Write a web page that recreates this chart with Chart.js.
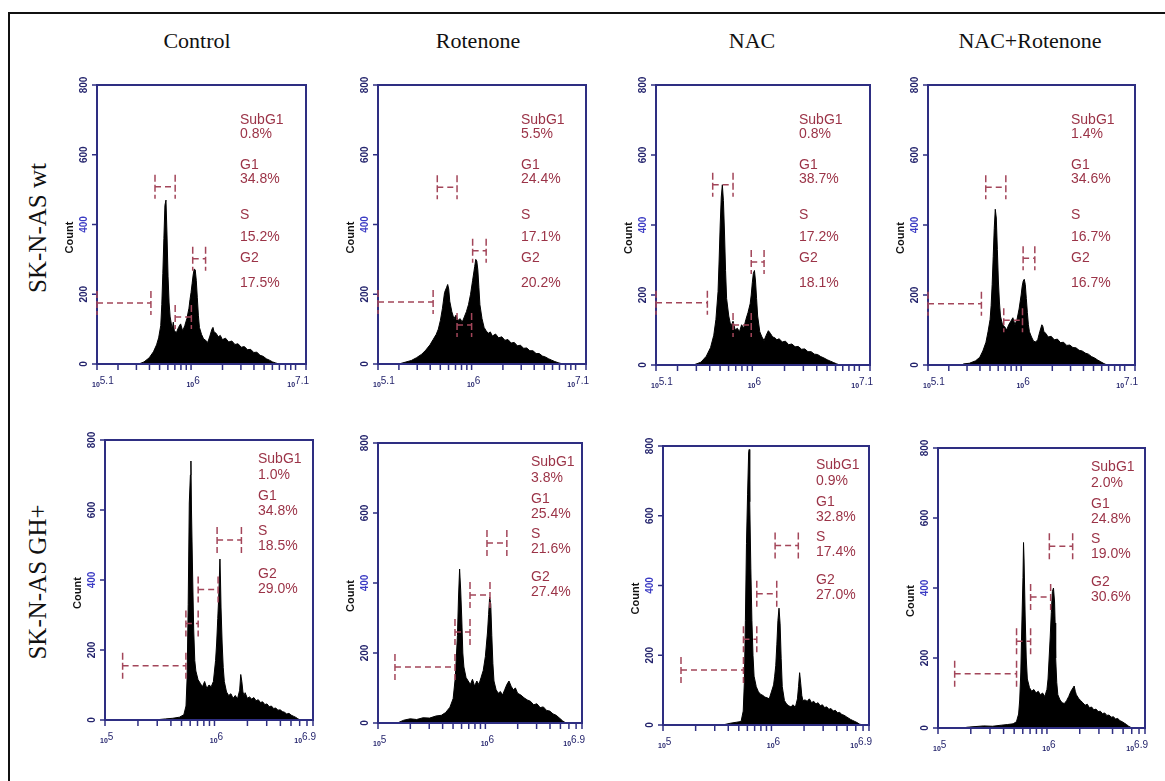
<!DOCTYPE html>
<html>
<head>
<meta charset="utf-8">
<title>Cell cycle histograms</title>
<script src="https://cdn.jsdelivr.net/npm/chart.js@4.4.1/dist/chart.umd.min.js"></script>
<style>
  html, body { margin: 0; padding: 0; background: #fff; }
  #page { position: relative; width: 1165px; height: 781px; overflow: hidden; }
  #frame { position: absolute; left: 8px; top: 12px; width: 1180px; height: 800px;
           border-left: 2px solid #111; border-top: 2px solid #111; }
  .col-title { position: absolute; top: 28px; font: 22px 'Liberation Serif', 'Times New Roman', serif;
               color: #111; transform: translateX(-50%); white-space: nowrap; }
  .row-title { position: absolute; font: 25px 'Liberation Serif', 'Times New Roman', serif; color: #111;
               transform: translate(-50%, -50%) rotate(-90deg); white-space: nowrap; }
  canvas { position: absolute; }
</style>
</head>
<body>
<div id="page"><div id="frame"></div></div>
<script>
// ---- values ----
const groups = ['Control', 'Rotenone', 'NAC', 'NAC+Rotenone'];
const cellLines = ['SK-N-AS wt', 'SK-N-AS GH+'];
const phases = ['SubG1', 'G1', 'S', 'G2'];
const countTicks = [0, 200, 400, 600, 800];
const wtTickExp = ['5.1', '6', '7.1'];
const ghTickExp = ['5', '6', '6.9'];

// histograms: log10 fluorescence -> count
const wtControlLog = [5.50,5.55,5.60,5.64,5.67,5.69,5.71,5.72,5.73,5.74, 5.75,5.76,5.77,5.78,5.79,5.80,5.82,5.83,5.84,5.86, 5.88,5.90,5.92,5.94,5.96,5.98,5.99,6.00,6.01,6.02, 6.03,6.04,6.05,6.06,6.07,6.08,6.10,6.12,6.14,6.16, 6.18,6.20,6.21,6.22,6.24,6.26,6.28,6.30,6.33,6.36, 6.39,6.42,6.45,6.48,6.51,6.54,6.57,6.60,6.63,6.66, 6.69,6.72,6.75,6.78,6.81,6.84];
const wtControlCount = [0,6,18,35,55,75,110,170,260,360, 455,470,370,250,175,135,100,120,95,90, 105,115,95,110,130,160,185,205,230,255, 272,270,240,190,140,105,85,72,68,62, 80,100,105,92,88,78,82,70,74,63, 66,56,58,48,50,41,42,33,34,25, 22,15,11,6,3,0];

const wtRotenoneLog = [5.30,5.36,5.42,5.47,5.52,5.56,5.60,5.63,5.66,5.68, 5.70,5.72,5.74,5.76,5.77,5.78,5.79,5.81,5.83,5.85, 5.87,5.89,5.91,5.93,5.95,5.97,5.99,6.01,6.03,6.04, 6.05,6.06,6.07,6.08,6.10,6.12,6.14,6.16,6.18,6.20, 6.23,6.26,6.29,6.32,6.35,6.38,6.41,6.44,6.47,6.50, 6.53,6.56,6.59,6.62,6.65,6.68,6.71,6.74,6.77,6.80, 6.84,6.88];
const wtRotenoneCount = [0,5,10,18,28,40,55,70,85,100, 125,160,205,220,228,215,180,150,130,140, 125,130,120,135,150,170,200,240,280,300, 295,270,220,170,130,105,95,88,92,80, 86,75,78,68,70,60,62,52,54,45, 46,38,38,30,30,23,20,15,11,7, 3,0];

const wtNacLog = [5.45,5.52,5.57,5.61,5.64,5.66,5.68,5.69,5.70,5.71, 5.72,5.73,5.74,5.75,5.76,5.78,5.80,5.82,5.84,5.86, 5.88,5.90,5.92,5.94,5.96,5.98,5.99,6.00,6.01,6.02, 6.03,6.04,6.05,6.07,6.09,6.11,6.13,6.15,6.17,6.19, 6.21,6.23,6.25,6.28,6.31,6.34,6.37,6.40,6.43,6.46, 6.49,6.52,6.55,6.58,6.61,6.64,6.67,6.70,6.73,6.76, 6.79,6.82];
const wtNacCount = [0,8,25,50,85,130,210,300,400,480, 515,470,380,270,190,140,110,125,100,105, 95,115,105,130,150,175,200,235,262,270, 240,190,140,95,80,70,85,98,90,80, 78,72,75,66,68,58,60,52,53,45, 46,38,38,31,30,24,20,15,11,7, 3,0];

const wtNacRotLog = [5.44,5.50,5.56,5.60,5.63,5.66,5.68,5.70,5.71,5.72, 5.73,5.74,5.75,5.76,5.77,5.78,5.79,5.80,5.82,5.84, 5.86,5.88,5.90,5.92,5.94,5.96,5.98,6.00,6.01,6.02, 6.03,6.04,6.05,6.06,6.07,6.08,6.10,6.12,6.14,6.16, 6.18,6.20,6.21,6.22,6.24,6.26,6.29,6.32,6.35,6.38, 6.41,6.44,6.47,6.50,6.53,6.56,6.59,6.62,6.65,6.68, 6.71,6.74,6.77,6.80,6.83];
const wtNacRotCount = [3,5,12,22,40,65,95,130,170,230, 310,390,445,420,330,240,180,140,115,110, 100,115,125,135,115,130,160,200,225,240, 245,230,190,150,115,95,80,68,66,72, 95,115,110,95,90,80,82,72,74,64, 65,56,57,50,49,42,40,34,31,24, 20,14,9,4,0];

const ghControlLog = [5.45,5.55,5.62,5.68,5.72,5.74,5.75,5.76,5.77,5.78, 5.785,5.79,5.80,5.81,5.82,5.83,5.85,5.87,5.89,5.91, 5.93,5.95,5.97,5.99,6.00,6.01,6.02,6.03,6.04,6.05, 6.055,6.06,6.07,6.08,6.09,6.11,6.13,6.15,6.17,6.19, 6.21,6.23,6.24,6.25,6.26,6.27,6.28,6.30,6.32,6.34, 6.36,6.38,6.40,6.42,6.44,6.46,6.48,6.50,6.52,6.54, 6.56,6.58,6.60,6.62,6.64,6.66,6.68,6.70,6.72,6.74, 6.76,6.78];
const ghControlCount = [0,3,5,8,15,40,120,330,620,700, 740,600,420,260,170,140,115,105,95,110, 90,100,95,110,140,170,220,290,360,460, 400,320,220,150,110,80,70,75,62,70, 60,85,130,110,80,70,78,62,66,60, 64,55,58,50,52,44,46,38,40,33, 34,28,29,24,22,17,19,14,11,8, 4,0];

const ghRotenoneLog = [5.18,5.24,5.30,5.36,5.42,5.48,5.54,5.59,5.63,5.67, 5.70,5.72,5.74,5.75,5.76,5.77,5.78,5.79,5.80,5.82, 5.84,5.86,5.88,5.90,5.92,5.94,5.96,5.98,6.00,6.02, 6.03,6.04,6.05,6.06,6.07,6.08,6.10,6.12,6.14,6.16, 6.18,6.20,6.22,6.24,6.26,6.28,6.30,6.33,6.36,6.39, 6.42,6.45,6.48,6.51,6.54,6.57,6.60,6.63,6.66,6.69, 6.72,6.75];
const ghRotenoneCount = [0,8,12,10,15,14,20,22,30,45, 70,130,250,360,440,380,300,200,160,130, 120,110,125,105,120,110,130,150,190,260, 310,360,340,250,170,120,95,85,90,80, 95,110,120,105,95,100,85,80,72,66, 62,52,55,44,46,36,34,26,22,14, 6,0];

const ghNacLog = [5.55,5.62,5.68,5.72,5.74,5.75,5.76,5.77,5.78,5.79, 5.795,5.80,5.81,5.82,5.83,5.84,5.86,5.88,5.90,5.92, 5.94,5.96,5.98,6.00,6.02,6.03,6.04,6.05,6.06,6.07, 6.08,6.09,6.10,6.12,6.14,6.16,6.18,6.20,6.22,6.24, 6.25,6.26,6.27,6.28,6.29,6.31,6.33,6.35,6.37,6.39, 6.41,6.43,6.45,6.47,6.49,6.51,6.53,6.55,6.57,6.59, 6.61,6.63,6.65,6.67,6.69,6.71,6.73,6.75,6.77,6.79, 6.81,6.84];
const ghNacCount = [0,5,8,10,40,120,300,520,660,780, 790,640,450,300,200,140,110,95,88,85, 80,78,75,95,115,140,170,230,300,335, 290,190,110,70,60,55,52,58,50,75, 110,150,120,85,70,72,68,75,64,68, 60,64,55,58,50,52,45,47,40,42, 35,36,30,28,24,20,16,13,10,7, 3,0];

const ghNacRotLog = [5.26,5.34,5.42,5.50,5.58,5.64,5.69,5.72,5.74,5.75, 5.76,5.77,5.78,5.785,5.79,5.80,5.81,5.82,5.84,5.86, 5.88,5.90,5.92,5.94,5.96,5.98,6.00,6.01,6.02,6.03, 6.04,6.05,6.06,6.07,6.075,6.08,6.09,6.10,6.12,6.14, 6.16,6.18,6.20,6.22,6.24,6.25,6.26,6.27,6.29,6.31, 6.33,6.35,6.37,6.39,6.41,6.43,6.45,6.47,6.49,6.51, 6.53,6.55,6.57,6.59,6.61,6.63,6.65,6.67,6.69,6.71, 6.73,6.75,6.78];
const ghNacRotCount = [2,4,6,5,8,10,12,18,40,80, 160,300,430,530,480,320,200,140,115,105, 110,100,105,95,100,90,110,140,200,260, 330,390,400,360,300,200,130,95,80,72, 70,78,90,105,115,120,105,95,85,78, 72,65,68,58,60,52,54,47,48,41, 43,36,37,31,32,26,27,21,18,14, 10,5,0];

// gates [from, to, level] in log10 units / counts, order SubG1, G1, S, G2
const wtControlGates  = [[5.1, 5.616, 175], [5.655, 5.848, 508], [5.848, 6.003, 135], [6.016, 6.139, 302]];
const wtRotenoneGates = [[5.1, 5.63, 178], [5.67, 5.86, 507], [5.86, 6.0, 112], [6.01, 6.14, 325]];
const wtNacGates      = [[5.1, 5.58, 178], [5.63, 5.82, 515], [5.82, 5.99, 114], [5.99, 6.11, 294]];
const wtNacRotGates   = [[5.1, 5.616, 175], [5.658, 5.852, 508], [5.832, 6.013, 128], [6.019, 6.132, 305]];
const ghControlGates  = [[5.161, 5.739, 155], [5.739, 5.851, 276], [5.851, 6.033, 373], [6.024, 6.246, 514]];
const ghRotenoneGates = [[5.158, 5.717, 160], [5.717, 5.857, 260], [5.857, 6.043, 366], [6.015, 6.2, 514]];
const ghNacGates      = [[5.166, 5.742, 158], [5.742, 5.865, 246], [5.865, 6.049, 376], [6.034, 6.248, 515]];
const ghNacRotGates   = [[5.153, 5.721, 155], [5.721, 5.85, 248], [5.85, 6.034, 374], [6.022, 6.236, 519]];

// phase percentages, order SubG1, G1, S, G2
const wtControlPct  = ['0.8%', '34.8%', '15.2%', '17.5%'];
const wtRotenonePct = ['5.5%', '24.4%', '17.1%', '20.2%'];
const wtNacPct      = ['0.8%', '38.7%', '17.2%', '18.1%'];
const wtNacRotPct   = ['1.4%', '34.6%', '16.7%', '16.7%'];
const ghControlPct  = ['1.0%', '34.8%', '18.5%', '29.0%'];
const ghRotenonePct = ['3.8%', '25.4%', '21.6%', '27.4%'];
const ghNacPct      = ['0.9%', '32.8%', '17.4%', '27.0%'];
const ghNacRotPct   = ['2.0%', '24.8%', '19.0%', '30.6%'];

// ---- layout ----
const AXIS = '#2e2e82';
const TICK_TEXT = '#26266e';
const GATE = '#a3465a';
const PCT_TEXT = '#9b3347';
const SANS = "'Liberation Sans', Arial, sans-serif";
const PAD = { left: 45, top: 20, right: 8, bottom: 30 };

// plot area boxes [left, top, width, height]
const plotBoxes = [
    [97, 85, 209, 279], [378, 85, 208, 279], [656, 85, 214, 280], [928, 85, 207, 280],
    [105, 440, 208, 280], [378, 443, 204, 280], [663, 446, 206, 279], [938, 448, 207, 280]
];
const titleX = [197, 478, 752, 1030];
const rowTitleY = [228, 582];

const rows = [
    { min: 5.1, max: 7.1, exps: wtTickExp, textLeft: 143, textY: [35, 49, 80, 94, 130, 152, 173, 198], gateHalf: 12 },
    { min: 5.0, max: 6.9, exps: ghTickExp, textLeft: 153, textY: [19, 35, 56, 71, 91, 106, 134, 149], gateHalf: 13 }
];

const panels = [
    { log: wtControlLog,  count: wtControlCount,  gates: wtControlGates,  pct: wtControlPct },
    { log: wtRotenoneLog, count: wtRotenoneCount, gates: wtRotenoneGates, pct: wtRotenonePct },
    { log: wtNacLog,      count: wtNacCount,      gates: wtNacGates,      pct: wtNacPct },
    { log: wtNacRotLog,   count: wtNacRotCount,   gates: wtNacRotGates,   pct: wtNacRotPct },
    { log: ghControlLog,  count: ghControlCount,  gates: ghControlGates,  pct: ghControlPct },
    { log: ghRotenoneLog, count: ghRotenoneCount, gates: ghRotenoneGates, pct: ghRotenonePct },
    { log: ghNacLog,      count: ghNacCount,      gates: ghNacGates,      pct: ghNacPct },
    { log: ghNacRotLog,   count: ghNacRotCount,   gates: ghNacRotGates,   pct: ghNacRotPct }
];

const page = document.getElementById('page');

// column and row titles
groups.forEach((g, i) => {
    const d = document.createElement('div');
    d.className = 'col-title';
    d.style.left = titleX[i] + 'px';
    d.textContent = g;
    page.appendChild(d);
});
cellLines.forEach((c, i) => {
    const d = document.createElement('div');
    d.className = 'row-title';
    d.style.left = '38px';
    d.style.top = rowTitleY[i] + 'px';
    d.textContent = c;
    page.appendChild(d);
});

function seg(ctx, x1, y1, x2, y2) {
    ctx.beginPath();
    ctx.moveTo(x1, y1);
    ctx.lineTo(x2, y2);
    ctx.stroke();
}

// axes, gates and phase text on top of the histogram
function makeOverlay(panel, row) {
    return {
        id: 'overlay',
        afterDatasetsDraw(chart) {
            const ctx = chart.ctx;
            const xs = chart.scales.x;
            const ys = chart.scales.y;
            const a = chart.chartArea;
            ctx.save();

            // frame
            ctx.strokeStyle = AXIS;
            ctx.lineWidth = 2;
            ctx.strokeRect(a.left, a.top, a.right - a.left, a.bottom - a.top);

            // count axis
            ctx.lineWidth = 1.5;
            ctx.font = 'bold 10px ' + SANS;
            countTicks.forEach(v => {
                const y = ys.getPixelForValue(v);
                seg(ctx, a.left - 5, y, a.left, y);
                ctx.save();
                ctx.translate(a.left - 13, y);
                ctx.rotate(-Math.PI / 2);
                ctx.textAlign = 'center';
                ctx.textBaseline = 'middle';
                ctx.fillStyle = v === 400 ? '#3c3cc4' : TICK_TEXT;
                ctx.fillText(String(v), 0, 0);
                ctx.restore();
            });
            ctx.save();
            ctx.translate(a.left - 27, (a.top + a.bottom) / 2 + 13);
            ctx.rotate(-Math.PI / 2);
            ctx.font = 'bold 11px ' + SANS;
            ctx.fillStyle = '#111';
            ctx.textAlign = 'center';
            ctx.textBaseline = 'middle';
            ctx.fillText('Count', 0, 0);
            ctx.restore();

            // log axis: decade sub-ticks
            const tickVals = [row.min, row.max];
            for (let n = Math.floor(row.min); n <= Math.ceil(row.max); n++) {
                for (let k = 1; k <= 9; k++) {
                    const v = n + Math.log10(k);
                    if (v > row.min + 0.005 && v < row.max - 0.005) tickVals.push(v);
                }
            }
            tickVals.forEach(v => {
                const x = xs.getPixelForValue(v);
                seg(ctx, x, a.bottom, x, a.bottom + 6);
            });
            row.exps.forEach((e, i) => {
                const x = xs.getPixelForValue(parseFloat(e));
                ctx.font = 'bold 7px ' + SANS;
                const w10 = ctx.measureText('10').width;
                ctx.font = '10px ' + SANS;
                const we = ctx.measureText(e).width;
                const w = w10 + we;
                let x0 = x - w / 2 + 2;
                if (i === 0) x0 = x - 5;
                if (i === row.exps.length - 1) x0 = x - w + 3;
                ctx.fillStyle = TICK_TEXT;
                ctx.textAlign = 'left';
                ctx.textBaseline = 'alphabetic';
                ctx.font = 'bold 7px ' + SANS;
                ctx.fillText('10', x0, a.bottom + 23);
                ctx.font = '10px ' + SANS;
                ctx.fillText(e, x0 + w10, a.bottom + 20);
            });

            // gates
            ctx.strokeStyle = GATE;
            ctx.lineWidth = 1.5;
            ctx.setLineDash([6, 4]);
            panel.gates.forEach(g => {
                const x1 = xs.getPixelForValue(g[0]);
                const x2 = xs.getPixelForValue(g[1]);
                const y = ys.getPixelForValue(g[2]);
                seg(ctx, x1, y, x2, y);
                ctx.setLineDash([7, 3]);
                seg(ctx, x1, y - row.gateHalf, x1, y + row.gateHalf);
                seg(ctx, x2, y - row.gateHalf, x2, y + row.gateHalf);
                ctx.setLineDash([6, 4]);
            });
            ctx.setLineDash([]);

            // phase percentages
            ctx.fillStyle = PCT_TEXT;
            ctx.font = '14px ' + SANS;
            ctx.textAlign = 'left';
            ctx.textBaseline = 'middle';
            phases.forEach((ph, i) => {
                ctx.fillText(ph, a.left + row.textLeft, a.top + row.textY[2 * i]);
                ctx.fillText(panel.pct[i], a.left + row.textLeft, a.top + row.textY[2 * i + 1]);
            });

            ctx.restore();
        }
    };
}

panels.forEach((p, i) => {
    const row = rows[i < 4 ? 0 : 1];
    const box = plotBoxes[i];
    const canvas = document.createElement('canvas');
    const w = box[2] + PAD.left + PAD.right;
    const h = box[3] + PAD.top + PAD.bottom;
    canvas.width = w;
    canvas.height = h;
    canvas.style.width = w + 'px';
    canvas.style.height = h + 'px';
    canvas.style.left = (box[0] - PAD.left) + 'px';
    canvas.style.top = (box[1] - PAD.top) + 'px';
    page.appendChild(canvas);

    const n = Math.min(p.log.length, p.count.length);
    const points = [];
    for (let j = 0; j < n; j++) points.push({ x: p.log[j], y: p.count[j] });

    new Chart(canvas, {
        type: 'line',
        data: {
            datasets: [{
                data: points,
                borderColor: '#000',
                backgroundColor: '#000',
                borderWidth: 1,
                fill: 'origin',
                pointRadius: 0,
                tension: 0
            }]
        },
        options: {
            responsive: false,
            animation: false,
            events: [],
            layout: { padding: PAD },
            plugins: { legend: { display: false }, tooltip: { enabled: false } },
            scales: {
                x: { type: 'linear', min: row.min, max: row.max, display: false },
                y: { min: 0, max: 800, display: false }
            }
        },
        plugins: [makeOverlay(p, row)]
    });
});
</script>
</body>
</html>
